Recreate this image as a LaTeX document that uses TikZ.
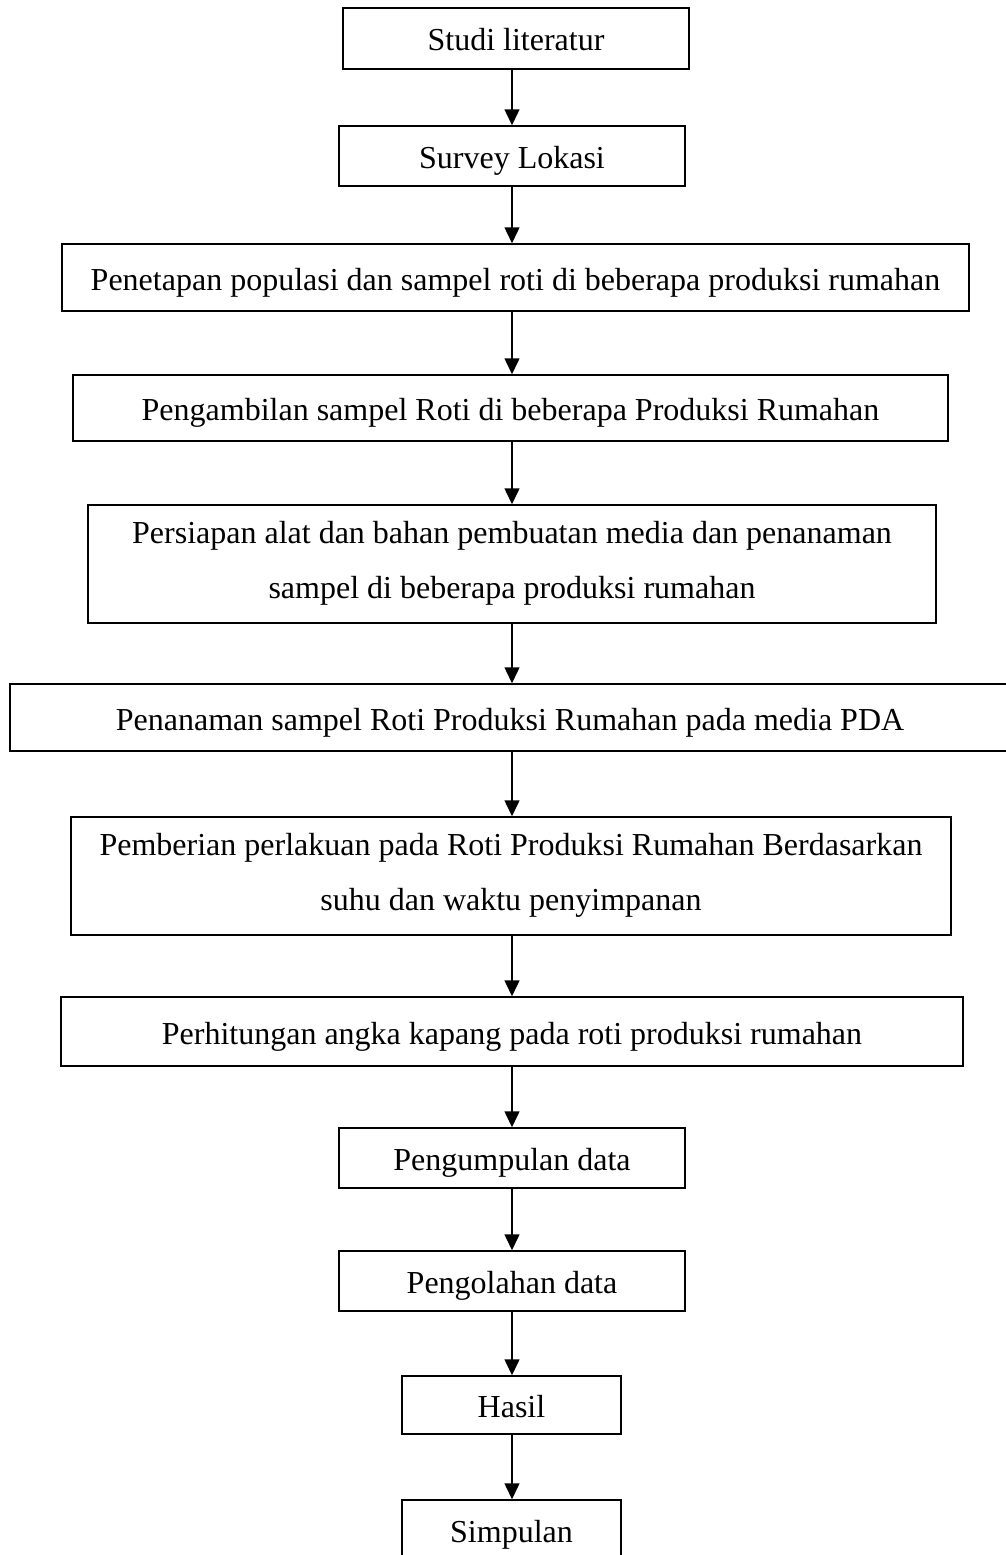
\documentclass[tikz,border=0pt]{standalone}
\usepackage{fontspec}
\setmainfont{Liberation Serif}
\usetikzlibrary{arrows.meta}
\def\tegak{\rule[-8pt]{0pt}{41pt}}
\tikzset{
	kotak/.style={draw, line width=1.5pt, inner sep=0pt, align=center, font=\fontsize{32}{55}\selectfont,
		execute at begin node=\tegak, execute at end node=\tegak},
	kotakdua/.style={kotak, execute at begin node=\rule{0pt}{41pt}},
	panah/.style={line width=1.5pt, -{Triangle[length=16pt,width=15pt]}}
}

\begin{document}
\begin{tikzpicture}[x=1pt,y=-1pt]
		%%%%% START %%%%%
		\useasboundingbox (0,0) rectangle (1006,1555);
		\coordinate (poros) at (512,0);
		
		\node[kotak, minimum width=346pt, minimum height=61pt] (studi) at (516,38.5) {Studi literatur};
		\node[kotak, minimum width=346pt, minimum height=60pt] (survey) at (512,156) {Survey Lokasi};
		\node[kotak, minimum width=907pt, minimum height=67pt] (penetapan) at (515.5,277.5) {Penetapan populasi dan sampel roti di beberapa produksi rumahan};
		\node[kotak, minimum width=875pt, minimum height=66pt] (pengambilan) at (510.5,408) {Pengambilan sampel Roti di beberapa Produksi Rumahan};
		\node[kotakdua, minimum width=848pt, minimum height=118pt] (persiapan) at (512,564) {Persiapan alat dan bahan pembuatan media dan penanaman\\sampel di beberapa produksi rumahan};
		\node[kotak, minimum width=1000pt, minimum height=67pt] (penanaman) at (510,717.5) {Penanaman sampel Roti Produksi Rumahan pada media PDA};
		\node[kotakdua, minimum width=880pt, minimum height=118pt] (pemberian) at (511,876) {Pemberian perlakuan pada Roti Produksi Rumahan Berdasarkan\\suhu dan waktu penyimpanan};
		\node[kotak, minimum width=902pt, minimum height=69pt] (perhitungan) at (512,1031.5) {Perhitungan angka kapang pada roti produksi rumahan};
		\node[kotak, minimum width=346pt, minimum height=60pt] (pengumpulan) at (512,1158) {Pengumpulan data};
		\node[kotak, minimum width=346pt, minimum height=60pt] (pengolahan) at (512,1281) {Pengolahan data};
		\node[kotak, minimum width=219pt, minimum height=58pt] (hasil) at (511.5,1405) {Hasil};
		\node[kotak, minimum width=219pt, minimum height=60pt] (simpulan) at (511.5,1530) {Simpulan};
		
		\foreach \a/\b in {studi/survey, survey/penetapan, penetapan/pengambilan, pengambilan/persiapan, persiapan/penanaman, penanaman/pemberian, pemberian/perhitungan, perhitungan/pengumpulan, pengumpulan/pengolahan, pengolahan/hasil, hasil/simpulan}
			\draw[panah] (\a.south -| poros) -- (\b.north -| poros);
		%%%%% END %%%%%
	\end{tikzpicture}
\end{document}
